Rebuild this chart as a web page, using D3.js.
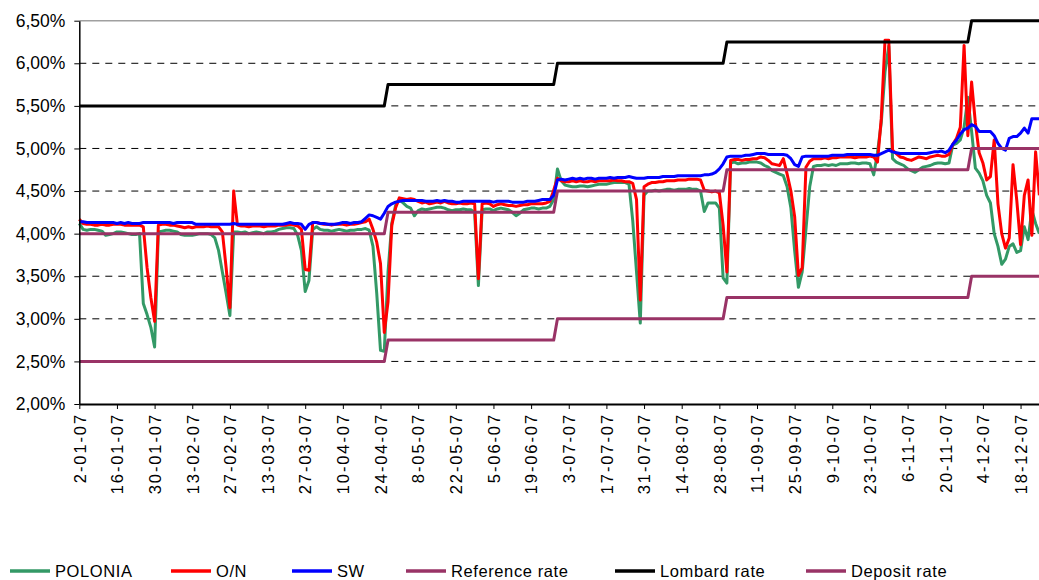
<!DOCTYPE html>
<meta charset="utf-8">
<script src="https://d3js.org/d3.v7.min.js"></script>
<style>
  body { margin: 0; background: #fff; }
  text { font-family: "Liberation Sans", Arial, sans-serif; fill: #000; }
</style>
<div id="my_dataviz"></div>

<script>
// category labels: every 10th business day of 2007 (one label per row of data below)
var tickLabels = ["2-01-07","16-01-07","30-01-07","13-02-07","27-02-07","13-03-07","27-03-07",
  "10-04-07","24-04-07","8-05-07","22-05-07","5-06-07","19-06-07","3-07-07","17-07-07",
  "31-07-07","14-08-07","28-08-07","11-09-07","25-09-07","9-10-07","23-10-07","6-11-07",
  "20-11-07","4-12-07","18-12-07"];

var yTicks = [2.0, 2.5, 3.0, 3.5, 4.0, 4.5, 5.0, 5.5, 6.0, 6.5];

// POLONIA, daily (%)
var polonia = [
  4.12,4.05,4.04,4.05,4.05,4.04,4.03,3.98,3.99,4.00,
  4.02,4.02,4.01,4.00,3.99,3.99,4.00,3.18,3.05,2.90,
  2.67,4.02,4.03,4.04,4.04,4.03,4.02,3.99,3.98,3.98,
  3.98,3.99,4.00,4.00,4.00,3.99,3.95,3.80,3.55,3.30,
  3.04,4.02,4.02,4.01,4.02,4.00,4.01,4.02,4.01,4.00,
  4.02,4.02,4.03,4.05,4.06,4.07,4.07,4.06,3.98,3.80,
  3.32,3.45,4.05,4.08,4.05,4.04,4.04,4.03,4.04,4.05,
  4.04,4.03,4.04,4.04,4.05,4.05,4.06,4.04,3.85,3.30,
  2.63,2.62,3.55,4.12,4.33,4.40,4.36,4.32,4.30,4.21,
  4.27,4.29,4.28,4.29,4.30,4.31,4.31,4.30,4.28,4.27,
  4.28,4.28,4.29,4.28,4.28,4.25,3.39,4.28,4.29,4.29,
  4.27,4.29,4.30,4.29,4.28,4.25,4.21,4.24,4.28,4.29,
  4.30,4.30,4.29,4.30,4.30,4.32,4.40,4.76,4.62,4.57,
  4.56,4.55,4.55,4.56,4.56,4.55,4.56,4.57,4.58,4.58,
  4.58,4.59,4.60,4.60,4.60,4.60,4.58,4.15,3.55,2.95,
  4.45,4.50,4.50,4.51,4.50,4.51,4.52,4.52,4.51,4.52,
  4.52,4.52,4.53,4.52,4.52,4.50,4.26,4.36,4.36,4.36,
  4.30,3.48,3.42,4.83,4.84,4.82,4.83,4.83,4.84,4.84,
  4.84,4.83,4.80,4.78,4.74,4.72,4.70,4.68,4.55,4.30,
  3.80,3.37,3.55,4.05,4.55,4.79,4.80,4.80,4.81,4.80,
  4.81,4.80,4.82,4.82,4.82,4.83,4.83,4.82,4.83,4.83,
  4.82,4.69,4.95,5.30,5.90,6.20,4.88,4.84,4.82,4.80,
  4.76,4.74,4.72,4.75,4.78,4.79,4.80,4.82,4.83,4.83,
  4.82,4.83,5.04,5.06,5.10,5.25,5.60,5.20,4.77,4.71,
  4.62,4.45,4.36,4.00,3.85,3.64,3.70,3.85,3.88,3.78,
  3.80,4.08,3.93,4.28,4.12,4.00
];

// O/N, daily (%)
var overnight = [
  4.17,4.12,4.11,4.11,4.10,4.10,4.11,4.10,4.10,4.11,
  4.11,4.11,4.10,4.10,4.10,4.10,4.10,4.08,3.60,3.25,
  2.97,4.10,4.11,4.11,4.10,4.10,4.09,4.08,4.07,4.08,
  4.07,4.08,4.08,4.08,4.09,4.08,4.08,4.08,4.02,3.60,
  3.13,4.50,4.10,4.09,4.09,4.08,4.09,4.09,4.09,4.08,
  4.09,4.09,4.09,4.10,4.10,4.10,4.11,4.10,4.09,4.05,
  3.58,3.57,4.13,4.13,4.12,4.11,4.11,4.10,4.11,4.11,
  4.11,4.10,4.11,4.11,4.12,4.13,4.14,4.17,4.05,3.90,
  3.65,2.84,3.20,4.10,4.30,4.42,4.41,4.40,4.41,4.40,
  4.38,4.36,4.37,4.35,4.36,4.37,4.36,4.38,4.36,4.35,
  4.35,4.36,4.35,4.35,4.36,4.35,3.47,4.35,4.36,4.35,
  4.32,4.34,4.35,4.34,4.33,4.33,4.32,4.33,4.34,4.34,
  4.35,4.35,4.35,4.35,4.36,4.38,4.51,4.65,4.62,4.61,
  4.61,4.62,4.61,4.62,4.61,4.61,4.62,4.61,4.62,4.62,
  4.62,4.62,4.63,4.62,4.62,4.61,4.61,4.59,4.40,3.22,
  4.55,4.58,4.60,4.60,4.61,4.61,4.62,4.62,4.62,4.63,
  4.63,4.63,4.64,4.64,4.64,4.63,4.51,4.50,4.49,4.50,
  4.48,4.10,3.55,4.86,4.87,4.87,4.86,4.87,4.87,4.88,
  4.88,4.90,4.89,4.86,4.82,4.81,4.80,4.88,4.70,4.50,
  4.20,3.51,3.60,4.78,4.85,4.88,4.88,4.88,4.89,4.88,
  4.89,4.89,4.90,4.90,4.90,4.90,4.89,4.90,4.90,4.90,
  4.91,4.90,4.84,5.35,6.27,6.27,4.98,4.94,4.90,4.89,
  4.87,4.86,4.88,4.90,4.89,4.88,4.90,4.91,4.92,4.91,
  4.91,4.93,5.05,5.12,5.25,6.21,5.15,5.78,5.30,4.95,
  4.83,4.63,4.67,5.10,4.35,4.00,3.83,3.95,4.81,4.39,
  3.87,4.45,4.63,3.98,4.96,4.45
];

// SW, daily (%)
var sw = [
  4.14,4.14,4.13,4.13,4.13,4.13,4.13,4.13,4.13,4.13,
  4.12,4.13,4.12,4.13,4.12,4.12,4.12,4.13,4.13,4.13,
  4.13,4.13,4.13,4.13,4.13,4.12,4.13,4.13,4.13,4.13,
  4.13,4.11,4.11,4.11,4.11,4.11,4.11,4.11,4.11,4.11,
  4.11,4.12,4.11,4.11,4.11,4.11,4.11,4.11,4.11,4.11,
  4.11,4.11,4.11,4.11,4.11,4.12,4.13,4.12,4.12,4.11,
  4.05,4.11,4.13,4.13,4.12,4.12,4.11,4.11,4.11,4.12,
  4.13,4.13,4.12,4.13,4.13,4.14,4.18,4.22,4.21,4.19,
  4.17,4.24,4.32,4.35,4.37,4.38,4.39,4.39,4.39,4.39,
  4.39,4.39,4.38,4.38,4.38,4.39,4.38,4.39,4.38,4.38,
  4.37,4.37,4.38,4.38,4.38,4.38,4.38,4.38,4.38,4.38,
  4.37,4.38,4.38,4.38,4.38,4.37,4.37,4.37,4.37,4.38,
  4.38,4.38,4.39,4.40,4.40,4.40,4.45,4.63,4.64,4.63,
  4.64,4.65,4.64,4.65,4.64,4.65,4.65,4.64,4.65,4.65,
  4.65,4.66,4.65,4.66,4.66,4.66,4.67,4.66,4.65,4.65,
  4.65,4.66,4.66,4.66,4.66,4.67,4.67,4.67,4.67,4.68,
  4.68,4.68,4.68,4.68,4.68,4.68,4.69,4.69,4.70,4.72,
  4.76,4.82,4.90,4.91,4.91,4.91,4.91,4.92,4.92,4.93,
  4.94,4.94,4.94,4.93,4.93,4.93,4.93,4.93,4.92,4.88,
  4.81,4.79,4.90,4.91,4.91,4.91,4.91,4.91,4.91,4.91,
  4.92,4.92,4.92,4.92,4.93,4.93,4.93,4.93,4.93,4.93,
  4.93,4.92,4.92,4.94,4.96,4.98,4.96,4.95,4.94,4.94,
  4.94,4.94,4.94,4.94,4.94,4.94,4.95,4.96,4.96,4.97,
  4.95,4.98,5.05,5.10,5.17,5.22,5.24,5.28,5.26,5.20,
  5.20,5.20,5.20,5.15,5.06,5.00,4.98,5.12,5.14,5.14,
  5.18,5.24,5.18,5.35,5.35,5.35
];

// NBP official rates: day index on which each level starts, and the levels (%)
var rateStart = [0, 82, 127, 172, 237];
var referenceRate = [4.00, 4.25, 4.50, 4.75, 5.00];
var lombardRate = [5.50, 5.75, 6.00, 6.25, 6.50];
var depositRate = [2.50, 2.75, 3.00, 3.25, 3.50];

var svgW = 1039, svgH = 580;
var margin = {top: 20.7, left: 79.3, bottom: 404};

var svg = d3.select("#my_dataviz")
  .append("svg")
    .attr("width", svgW)
    .attr("height", svgH);

var n = polonia.length;
var x = d3.scaleLinear()
  .domain([0, n - 1])
  .range([margin.left, margin.left + (n - 1) * 3.765]);

var y = d3.scaleLinear()
  .domain([2, 6.5])
  .range([margin.bottom, margin.top]);

// turn the step rates into daily series
function daily(levels) {
  return d3.range(n).map(function(i) {
    return levels[d3.bisectRight(rateStart, i) - 1];
  });
}

var series = [
  {name: "POLONIA", values: polonia, color: "#339966"},
  {name: "O/N", values: overnight, color: "#ff0000"},
  {name: "SW", values: sw, color: "#0000ff"},
  {name: "Reference rate", values: daily(referenceRate), color: "#993366"},
  {name: "Lombard rate", values: daily(lombardRate), color: "#000000"},
  {name: "Deposit rate", values: daily(depositRate), color: "#993366"}
];

// gridlines
svg.append("g")
  .selectAll("line")
  .data(yTicks.filter(function(d) { return d > 2 && d < 6.5; }))
  .enter()
  .append("line")
    .attr("x1", margin.left)
    .attr("x2", svgW)
    .attr("y1", function(d) { return y(d); })
    .attr("y2", function(d) { return y(d); })
    .attr("stroke", "#000")
    .attr("stroke-width", 1)
    .attr("stroke-dasharray", "7,6");

// top border of plot area
svg.append("line")
  .attr("x1", margin.left).attr("x2", svgW)
  .attr("y1", y(6.5)).attr("y2", y(6.5))
  .attr("stroke", "#a0a0a0")
  .attr("stroke-width", 1.5);

// lines
var line = d3.line()
  .x(function(d, i) { return x(i); })
  .y(function(d) { return y(d); });

svg.append("g")
  .selectAll("path")
  .data(series)
  .enter()
  .append("path")
    .attr("d", function(d) { return line(d.values); })
    .attr("fill", "none")
    .attr("stroke", function(d) { return d.color; })
    .attr("stroke-width", 3)
    .attr("stroke-linejoin", "round");

// Y axis
var yAxis = svg.append("g")
  .attr("transform", "translate(" + margin.left + ",0)")
  .call(d3.axisLeft(y)
    .tickValues(yTicks)
    .tickSize(5)
    .tickSizeOuter(0)
    .tickPadding(9)
    .tickFormat(function(d) { return d3.format(".2f")(d).replace(".", ",") + "%"; }));
yAxis.select(".domain").attr("stroke", "#000").attr("stroke-width", 1.5);
yAxis.selectAll("text").style("font-size", "17.5px").attr("font-family", null);

// X axis
var xAxis = svg.append("g")
  .attr("transform", "translate(0," + margin.bottom + ")")
  .call(d3.axisBottom(x)
    .tickValues(d3.range(0, n, 10))
    .tickSize(5)
    .tickSizeOuter(0)
    .tickFormat(function(d) { return tickLabels[d / 10]; }));
xAxis.select(".domain").attr("stroke", "#000").attr("stroke-width", 2);
xAxis.selectAll("text")
  .attr("font-family", null)
  .style("font-size", "16.5px")
  .style("letter-spacing", "1.9px")
  .attr("text-anchor", "end")
  .attr("transform", "rotate(-90)")
  .attr("x", -9)
  .attr("y", 0)
  .attr("dy", "0.35em");

// legend
var legendX = [10, 171, 292, 406, 615, 806];
var legend = svg.append("g")
  .selectAll("g")
  .data(series)
  .enter()
  .append("g")
    .attr("transform", function(d, i) { return "translate(" + legendX[i] + ",571)"; });
legend.append("line")
  .attr("x1", 0).attr("x2", 40)
  .attr("stroke", function(d) { return d.color; })
  .attr("stroke-width", 3.5);
legend.append("text")
  .attr("x", 45)
  .attr("dy", "0.35em")
  .style("font-size", "16.5px")
  .style("letter-spacing", "0.6px")
  .text(function(d) { return d.name; });
</script>
